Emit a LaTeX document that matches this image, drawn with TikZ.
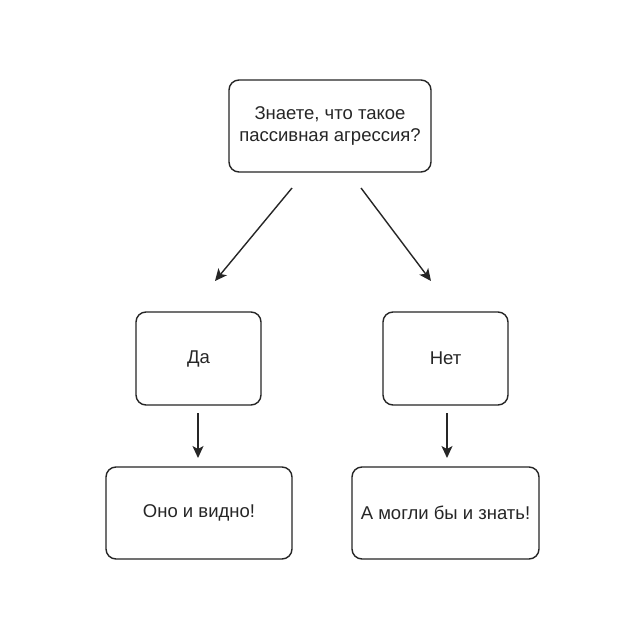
\documentclass[tikz,border=0pt]{standalone}
\usepackage{fontspec}
\setmainfont{Liberation Sans}
\usetikzlibrary{arrows.meta}
\begin{document}
\begin{tikzpicture}[x=1pt,y=-1pt,
  box/.style={draw=black!85, line width=1.4pt, rounded corners=10pt, align=center,
    inner sep=0pt, font=\fontsize{18.5}{22}\selectfont, text=black!85},
  arr/.style={draw=black!85, line width=1.4pt, -{Stealth[length=12pt,width=11pt,inset=3pt]}}]
\useasboundingbox (0,0) rectangle (640,640);
\fill[white] (0,0) rectangle (640,640);
\node[box, minimum width=202pt, minimum height=92pt] (top) at (330,126) {Знаете, что такое\\пассивная агрессия?};
\node[box, minimum width=125pt, minimum height=93pt] (da) at (198.5,358.5) {Да};
\node[box, minimum width=125pt, minimum height=93pt] (net) at (445.5,358.5) {Нет};
\node[box, minimum width=186pt, minimum height=92pt] (ono) at (199,513) {Оно и видно!};
\node[box, minimum width=187pt, minimum height=92pt] (amog) at (445.5,513) {А могли бы и знать!};
\coordinate (s1) at (292,188);
\coordinate (e1) at (215,281);
\coordinate (s2) at (361,188);
\coordinate (e2) at (431,281);
\coordinate (s3) at (198,413);
\coordinate (e3) at (198,458);
\coordinate (s4) at (447,413);
\coordinate (e4) at (447,458);
\draw[arr] (s1) -- (e1);
\draw[arr] (s2) -- (e2);
\draw[arr] (s3) -- (e3);
\draw[arr] (s4) -- (e4);
\end{tikzpicture}
\end{document}
